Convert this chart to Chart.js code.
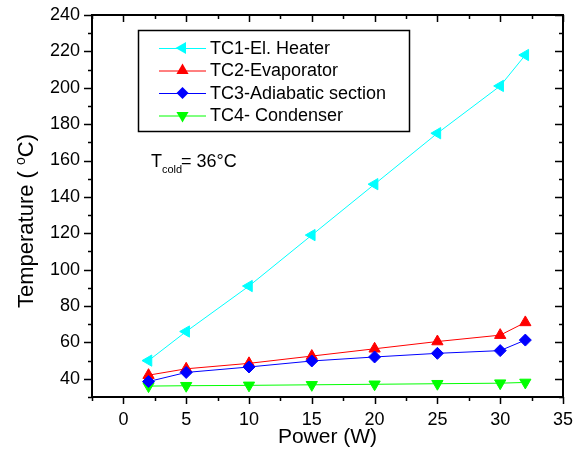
<!DOCTYPE html>
<html>
<head>
<meta charset="utf-8">
<script src="https://cdn.jsdelivr.net/npm/chart.js@4"></script>
<style>
  body { margin: 0; background: #fff; }
  canvas { display: block; }
</style>
</head>
<body>
<canvas id="tempChart" width="581" height="450"></canvas>
<script>
// valores
const power = [2, 5, 10, 15, 20, 25, 30, 32];
const tc1 = [50, 66, 91, 119, 147, 175, 201, 218];
const tc2 = [42, 45.5, 48.5, 52.5, 56.5, 60.5, 64, 71];
const tc3 = [38.5, 43.5, 46.5, 49.8, 52, 54, 55.5, 61.3];
const tc4 = [36, 36.2, 36.4, 36.7, 37, 37.3, 37.6, 38];

const xTicks = [0, 5, 10, 15, 20, 25, 30, 35];
const yTicks = [40, 60, 80, 100, 120, 140, 160, 180, 200, 220, 240];

const seriesNames = ['TC1-El. Heater', 'TC2-Evaporator', 'TC3-Adiabatic section', 'TC4- Condenser'];
const seriesColors = ['#00FFFF', '#FF0000', '#0000FF', '#00FF00'];

const FONT = '"Liberation Sans", Arial, sans-serif';

function serie(i, values, style, rotation, radius, order) {
    return {
        label: seriesNames[i],
        data: power.map((p, k) => ({ x: p, y: values[k] })),
        borderColor: seriesColors[i],
        backgroundColor: seriesColors[i],
        borderWidth: 1,
        pointStyle: style,
        pointRotation: rotation,
        pointRadius: radius,
        pointBorderWidth: 1,
        pointBackgroundColor: seriesColors[i],
        pointBorderColor: seriesColors[i],
        tension: 0,
        order: order
    };
}

// desenha o marcador (legenda)
function marker(ctx, style, rotation, r, x, y, color) {
    ctx.save();
    ctx.translate(x, y);
    ctx.rotate(rotation * Math.PI / 180);
    ctx.fillStyle = color;
    ctx.beginPath();
    if (style === 'triangle') {
        ctx.moveTo(0, -r);
        ctx.lineTo(r * 0.866, r * 0.5);
        ctx.lineTo(-r * 0.866, r * 0.5);
    } else {
        ctx.moveTo(0, -r);
        ctx.lineTo(r, 0);
        ctx.lineTo(0, r);
        ctx.lineTo(-r, 0);
    }
    ctx.closePath();
    ctx.fill();
    ctx.restore();
}

const decoPlugin = {
    id: 'deco',
    afterDraw(chart) {
        const ctx = chart.ctx;
        const a = chart.chartArea;
        const xs = chart.scales.x;
        const ys = chart.scales.y;

        ctx.save();
        ctx.strokeStyle = '#000';
        ctx.lineWidth = 1.5;

        // ticks maiores e menores
        ctx.beginPath();
        for (let v = -2.5; v <= 35; v += 2.5) {
            const px = Math.round(xs.getPixelForValue(v)) + 0.5;
            const len = (v % 5 === 0) ? 7 : 4;
            ctx.moveTo(px, a.bottom); ctx.lineTo(px, a.bottom + len);
            ctx.moveTo(px, a.top); ctx.lineTo(px, a.top + len);
        }
        for (let v = 30; v <= 240; v += 10) {
            const py = Math.round(ys.getPixelForValue(v)) + 0.5;
            const len = (v % 20 === 0) ? 8 : 4;
            ctx.moveTo(a.left, py); ctx.lineTo(a.left - len, py);
            ctx.moveTo(a.right, py); ctx.lineTo(a.right - len, py);
        }
        ctx.stroke();

        ctx.lineWidth = 2;
        ctx.strokeRect(a.left, a.top, a.right - a.left, a.bottom - a.top);

        // legenda
        ctx.lineWidth = 1.5;
        ctx.strokeRect(138.5, 30.5, 271, 101);
        const rows = [48, 70.5, 93, 115.5];
        const styles = [['triangle', -90, 7], ['triangle', 0, 7], ['rectRot', 0, 6], ['triangle', 180, 7]];
        ctx.font = '18px ' + FONT;
        ctx.textBaseline = 'middle';
        ctx.textAlign = 'left';
        rows.forEach((ry, i) => {
            ctx.strokeStyle = seriesColors[i];
            ctx.lineWidth = 1;
            ctx.beginPath();
            ctx.moveTo(159, ry + 0.5); ctx.lineTo(206, ry + 0.5);
            ctx.stroke();
            marker(ctx, styles[i][0], styles[i][1], styles[i][2], 182.5, ry, seriesColors[i]);
            ctx.fillStyle = '#000';
            ctx.fillText(seriesNames[i], 210, ry + 1);
        });

        // T_cold
        ctx.textBaseline = 'alphabetic';
        ctx.font = '18px ' + FONT;
        ctx.fillText('T', 151, 167);
        ctx.font = '11px ' + FONT;
        ctx.fillText('cold', 162, 173);
        ctx.font = '18px ' + FONT;
        ctx.fillText('= 36°C', 181, 167);

        // título do eixo x
        ctx.textAlign = 'center';
        ctx.textBaseline = 'middle';
        ctx.font = '21px ' + FONT;
        ctx.fillText('Power (W)', (a.left + a.right) / 2, 437);

        // título do eixo y (com o grau em sobrescrito)
        ctx.translate(25, 221);
        ctx.rotate(-Math.PI / 2);
        ctx.textAlign = 'left';
        ctx.textBaseline = 'alphabetic';
        const p1 = 'Temperature ( ', p2 = 'o', p3 = 'C)';
        ctx.font = '22px ' + FONT;
        const w1 = ctx.measureText(p1).width, w3 = ctx.measureText(p3).width;
        ctx.font = '14px ' + FONT;
        const w2 = ctx.measureText(p2).width;
        const x0 = -(w1 + w2 + w3) / 2;
        ctx.font = '22px ' + FONT;
        ctx.fillText(p1, x0, 8);
        ctx.font = '14px ' + FONT;
        ctx.fillText(p2, x0 + w1, 0);
        ctx.font = '22px ' + FONT;
        ctx.fillText(p3, x0 + w1 + w2, 8);
        ctx.restore();
    }
};

const ctx = document.getElementById('tempChart').getContext('2d');
const chart = new Chart(ctx, {
    type: 'line',
    data: {
        datasets: [
            serie(0, tc1, 'triangle', -90, 6.5, 0),
            serie(1, tc2, 'triangle', 0, 6.5, 2),
            serie(2, tc3, 'rectRot', 0, 6, 1),
            serie(3, tc4, 'triangle', 180, 6.5, 3)
        ]
    },
    options: {
        responsive: false,
        animation: false,
        devicePixelRatio: 1,
        layout: { padding: { left: 0, top: 15, right: 18, bottom: 0 } },
        plugins: {
            legend: { display: false },
            tooltip: { enabled: false }
        },
        scales: {
            x: {
                type: 'linear',
                min: -2.5,
                max: 35,
                grid: { display: false, drawTicks: false },
                border: { display: false },
                ticks: {
                    autoSkip: false,
                    maxRotation: 0,
                    padding: 12,
                    color: '#000',
                    font: { family: FONT, size: 18 }
                },
                afterBuildTicks: scale => { scale.ticks = xTicks.map(v => ({ value: v })); },
                afterFit: scale => {
                    scale.height = 53;
                    scale.paddingLeft = 0;
                    scale.paddingRight = 0;
                }
            },
            y: {
                type: 'linear',
                min: 30,
                max: 240,
                grid: { display: false, drawTicks: false },
                border: { display: false },
                ticks: {
                    autoSkip: false,
                    padding: 12,
                    color: '#000',
                    font: { family: FONT, size: 18 }
                },
                afterBuildTicks: scale => { scale.ticks = yTicks.map(v => ({ value: v })); },
                afterFit: scale => {
                    scale.width = 92;
                    scale.paddingTop = 0;
                    scale.paddingBottom = 0;
                }
            }
        }
    },
    plugins: [decoPlugin]
});
</script>
</body>
</html>
